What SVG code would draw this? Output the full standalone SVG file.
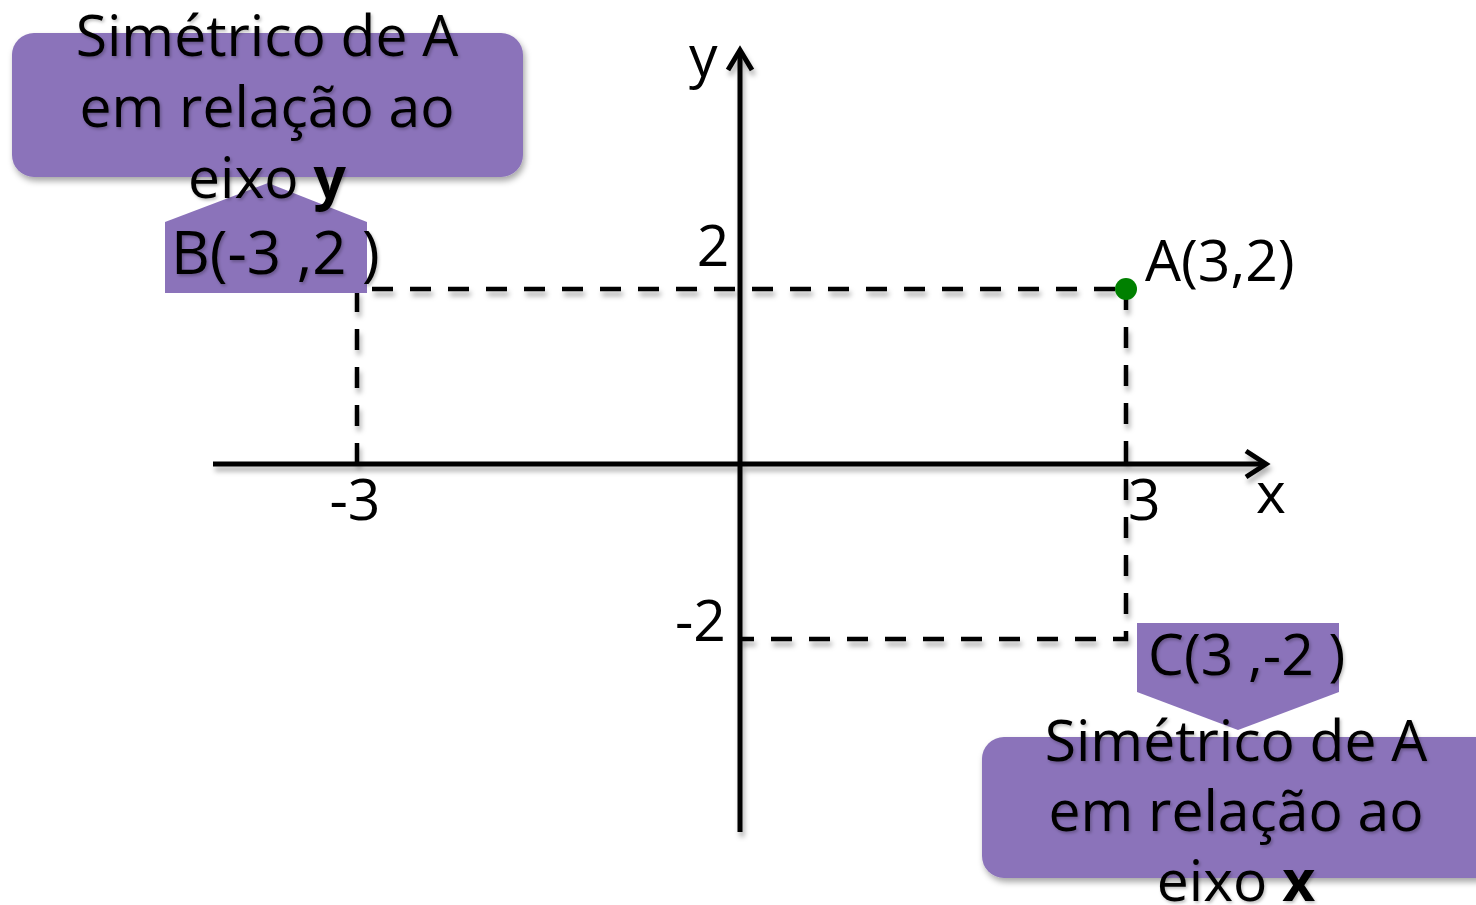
<svg xmlns="http://www.w3.org/2000/svg" width="1476" height="905" viewBox="0 0 1476 905">
  <style>
    .t { font-family: "Open Sans", "Noto Sans", "DejaVu Sans", sans-serif; font-size: 57px; fill: #000; }
    .mid { text-anchor: middle; }
    .box { fill: #8B73BA; }
    .axis { stroke: #000; stroke-width: 5; fill: none; }
    .dash { stroke: #000; stroke-width: 4.5; fill: none; stroke-dasharray: 21 17; }
  </style>
  <defs>
    <filter id="sh" x="-10%" y="-10%" width="130%" height="140%">
      <feDropShadow dx="2" dy="4" stdDeviation="3" flood-color="#000" flood-opacity="0.35"/>
    </filter>
    <filter id="lsh" x="0" y="0" width="1476" height="905" filterUnits="userSpaceOnUse">
      <feDropShadow dx="2" dy="5" stdDeviation="2.5" flood-color="#000" flood-opacity="0.3"/>
    </filter>
    <filter id="tsh" x="-10%" y="-20%" width="120%" height="150%">
      <feDropShadow dx="1.5" dy="2" stdDeviation="1.5" flood-color="#000" flood-opacity="0.25"/>
    </filter>
  </defs>

  <g id="axes" filter="url(#lsh)">
    <line class="axis" x1="213" y1="464" x2="1266" y2="464"/>
    <polyline class="axis" points="1246,451 1266,464 1246,477"/>
    <line class="axis" x1="740" y1="832" x2="740" y2="50"/>
    <polyline class="axis" points="728,70 740,50 752,70"/>
  </g>

  <g id="connectors" filter="url(#lsh)">
    <polyline class="dash" points="357,464 357,289 1126,289"/>
    <polyline class="dash" points="1126,289 1126,639 740,639"/>
  </g>

  <g id="point-A">
    <circle cx="1126" cy="289" r="11" fill="#008000"/>
    <text class="t" x="1145" y="281">A(3,2)</text>
  </g>

  <g id="tick-labels">
    <text class="t" x="689" y="76">y</text>
    <text class="t mid" x="713" y="266">2</text>
    <text class="t mid" x="355" y="520">-3</text>
    <text class="t" x="1128" y="520">3</text>
    <text class="t" x="1256" y="513">x</text>
    <text class="t" x="675" y="641">-2</text>
  </g>

  <g id="callout-y">
    <rect class="box" x="12" y="33" width="511" height="144" rx="22" filter="url(#sh)"/>
    <polygon class="box" points="165,222 268,183 367,222 367,293 165,293"/>
    <g filter="url(#tsh)">
      <text class="t mid" x="267" y="56">Simétrico de A</text>
      <text class="t mid" x="267" y="127">em relação ao</text>
      <text class="t mid" x="267" y="198">eixo <tspan font-weight="bold">y</tspan></text>
      <text class="t" x="171" y="274" style="font-size:60px">B(-3 ,2 )</text>
    </g>
  </g>

  <g id="callout-x">
    <rect class="box" x="982" y="737" width="520" height="141" rx="22" filter="url(#sh)"/>
    <polygon class="box" points="1137,623 1339,623 1339,692 1238,730 1137,692"/>
    <g filter="url(#tsh)">
      <text class="t" x="1148" y="675">C(3 ,-2 )</text>
      <text class="t mid" x="1236" y="761">Simétrico de A</text>
      <text class="t mid" x="1236" y="831">em relação ao</text>
      <text class="t mid" x="1236" y="901">eixo <tspan font-weight="bold">x</tspan></text>
    </g>
  </g>
</svg>
